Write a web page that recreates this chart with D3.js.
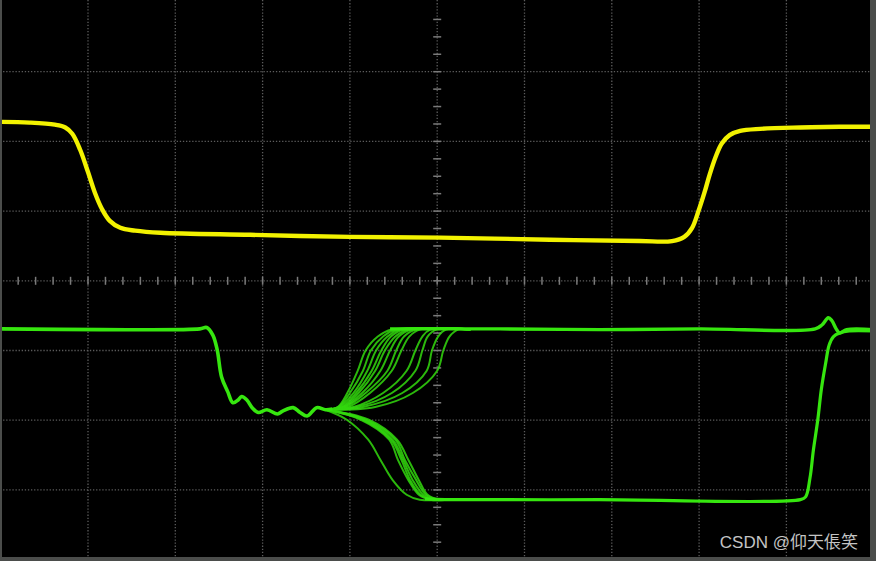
<!DOCTYPE html>
<html>
<head>
<meta charset="utf-8">
<script src="https://cdn.jsdelivr.net/npm/d3@7"></script>
<style>
  body { margin: 0; background: #000; }
  svg { display: block; }
</style>
</head>
<body>
<div id="scope"></div>
<script>
// time in divisions (0..10), voltage in divisions (-4..4, 0 = centre line)
var yellowT = [0, 0.33, 0.62, 0.74, 0.82, 0.91, 1.00, 1.08, 1.16, 1.25, 1.37, 1.54, 1.83, 2.86, 4.00, 5.03, 6.29, 7.32, 7.69, 7.83, 7.92, 7.99, 8.06, 8.12, 8.19, 8.26, 8.35, 8.47, 8.70, 9.16, 9.61, 10.0];
var yellowV = [2.28, 2.27, 2.24, 2.20, 2.11, 1.88, 1.56, 1.26, 1.03, 0.86, 0.76, 0.72, 0.69, 0.66, 0.63, 0.62, 0.59, 0.57, 0.57, 0.63, 0.76, 0.99, 1.26, 1.52, 1.78, 1.97, 2.09, 2.15, 2.18, 2.20, 2.21, 2.21];

// green trace before the bundle splits
var greenT = [0, 1.14, 2.28, 2.36, 2.43, 2.48, 2.53, 2.60, 2.66, 2.72, 2.76, 2.82, 2.88, 2.95, 3.05, 3.17, 3.23, 3.35, 3.43, 3.51, 3.62, 3.72, 3.80];
var greenV = [-0.69, -0.70, -0.69, -0.67, -0.78, -0.99, -1.38, -1.59, -1.75, -1.71, -1.66, -1.71, -1.82, -1.89, -1.85, -1.91, -1.87, -1.82, -1.89, -1.94, -1.82, -1.85, -1.84];

// upper bundle: time at which each sweep crosses these levels
var upLevels = [-1.81, -1.61, -1.29, -1.00, -0.80, -0.70];
var upSweeps = [
  [3.86, 3.97, 4.09, 4.18, 4.32, 4.48],
  [3.87, 4.00, 4.15, 4.24, 4.38, 4.53],
  [3.88, 4.04, 4.20, 4.30, 4.43, 4.57],
  [3.90, 4.07, 4.25, 4.36, 4.47, 4.62],
  [3.92, 4.10, 4.29, 4.40, 4.52, 4.67],
  [3.93, 4.14, 4.35, 4.46, 4.56, 4.71],
  [3.95, 4.18, 4.43, 4.53, 4.62, 4.76],
  [3.98, 4.23, 4.48, 4.59, 4.68, 4.80],
  [4.04, 4.38, 4.65, 4.75, 4.83, 4.92],
  [4.08, 4.48, 4.75, 4.83, 4.89, 4.99],
  [4.15, 4.60, 4.88, 4.94, 5.01, 5.10],
  [4.29, 4.72, 5.00, 5.07, 5.14, 5.24]
];

// lower bundle
var lowLevels = [-1.99, -2.28, -2.57, -2.86, -3.07, -3.14];
var lowSweeps = [
  [3.96, 4.21, 4.35, 4.49, 4.65, 4.80],
  [4.12, 4.45, 4.55, 4.67, 4.79, 4.92],
  [4.14, 4.47, 4.59, 4.69, 4.81, 4.94],
  [4.16, 4.49, 4.61, 4.72, 4.84, 4.96],
  [4.18, 4.52, 4.63, 4.76, 4.87, 5.00],
  [4.21, 4.54, 4.67, 4.79, 4.89, 5.03]
];

// tails after the bundles
var highTailT = [4.46, 5.72, 6.86, 8.01, 9.33, 9.41, 9.48, 9.52, 9.57, 9.61, 9.69, 10.0];
var highTailV = [-0.69, -0.69, -0.70, -0.69, -0.69, -0.63, -0.53, -0.57, -0.69, -0.75, -0.70, -0.70];
var lowTailT = [4.86, 5.09, 6.86, 9.16, 9.22, 9.27, 9.31, 9.36, 9.40, 9.45, 9.49, 9.54, 9.61, 9.72, 10.0];
var lowTailV = [-3.13, -3.14, -3.14, -3.14, -3.10, -2.83, -2.42, -1.99, -1.56, -1.18, -0.92, -0.80, -0.75, -0.72, -0.72];

var w = 876, h = 561;
var x = d3.scaleLinear().domain([0, 10]).range([0.7, 873.7]);
var y = d3.scaleLinear().domain([-4, 4]).range([559.6, 2.0]);

var svg = d3.select('#scope').append('svg')
    .attr('width', w)
    .attr('height', h);

svg.append('rect').attr('width', w).attr('height', h).attr('fill', '#000');

// dotted graticule
var grid = svg.append('g')
    .attr('stroke', '#5c5c5c')
    .attr('stroke-width', 1.3)
    .attr('stroke-dasharray', '1.3,1.8');
grid.selectAll('line.v')
    .data(d3.range(1, 10))
    .enter().append('line')
        .attr('x1', function (d) { return x(d); })
        .attr('x2', function (d) { return x(d); })
        .attr('y1', 0)
        .attr('y2', h);
grid.selectAll('line.h')
    .data(d3.range(-3, 4))
    .enter().append('line')
        .attr('x1', 0)
        .attr('x2', w)
        .attr('y1', function (d) { return y(d); })
        .attr('y2', function (d) { return y(d); });

// minor ticks on the centre cross
var ticks = svg.append('g').attr('stroke', '#7a7a7a').attr('stroke-width', 1.5);
ticks.selectAll('line.tx')
    .data(d3.range(0.2, 10, 0.2))
    .enter().append('line')
        .attr('x1', function (d) { return x(d); })
        .attr('x2', function (d) { return x(d); })
        .attr('y1', y(0) - 4)
        .attr('y2', y(0) + 4);
ticks.selectAll('line.ty')
    .data(d3.range(-3.75, 4, 0.25))
    .enter().append('line')
        .attr('x1', x(5) - 4)
        .attr('x2', x(5) + 4)
        .attr('y1', function (d) { return y(d); })
        .attr('y2', function (d) { return y(d); });

var line = d3.line()
    .x(function (d) { return x(d[0]); })
    .y(function (d) { return y(d[1]); })
    .curve(d3.curveCatmullRom.alpha(0.5));

function pairs(ts, vs) {
    return ts.map(function (t, i) { return [t, vs[i]]; });
}

var splitT = greenT[greenT.length - 2], splitV = greenV[greenV.length - 2];

// bundles
var bundle = svg.append('g')
    .attr('fill', 'none')
    .attr('stroke', '#32d80e')
    .attr('stroke-width', 2)
    .attr('stroke-opacity', 0.85);
bundle.selectAll('path.up')
    .data(upSweeps)
    .enter().append('path')
        .attr('d', function (s) {
            return line([[splitT, splitV]].concat(pairs(s, upLevels), [[5.38, -0.70]]));
        });
bundle.selectAll('path.low')
    .data(lowSweeps)
    .enter().append('path')
        .attr('d', function (s) {
            return line([[splitT, splitV]].concat(pairs(s, lowLevels), [[5.12, -3.14]]));
        });

// main green trace and tails
var green = svg.append('g')
    .attr('fill', 'none')
    .attr('stroke', '#36e60f')
    .attr('stroke-width', 3.6)
    .attr('stroke-linejoin', 'round');
green.append('path').attr('d', line(pairs(greenT, greenV)));
green.append('path').attr('d', line(pairs(highTailT, highTailV))).attr('stroke-width', 3.4);
green.append('path').attr('d', line(pairs(lowTailT, lowTailV))).attr('stroke-width', 3.2);

// yellow trace
svg.append('path')
    .attr('d', line(pairs(yellowT, yellowV)))
    .attr('fill', 'none')
    .attr('stroke', '#f2f200')
    .attr('stroke-width', 4.4)
    .attr('stroke-linejoin', 'round');

// screen frame
svg.append('rect').attr('x', 0).attr('y', 0).attr('width', 2).attr('height', h).attr('fill', '#4b4d4b');
svg.append('rect').attr('x', 0).attr('y', 557).attr('width', w).attr('height', 4).attr('fill', '#4b4d4b');
svg.append('rect').attr('x', 870).attr('y', 0).attr('width', 6).attr('height', h).attr('fill', '#4b4d4b');

svg.append('text')
    .attr('x', 858)
    .attr('y', 548)
    .attr('text-anchor', 'end')
    .attr('font-family', 'Liberation Sans, Noto Sans CJK SC, sans-serif')
    .attr('font-size', 17)
    .attr('fill', '#c4c4c4')
    .text('CSDN @仰天倀笑');
</script>
</body>
</html>
